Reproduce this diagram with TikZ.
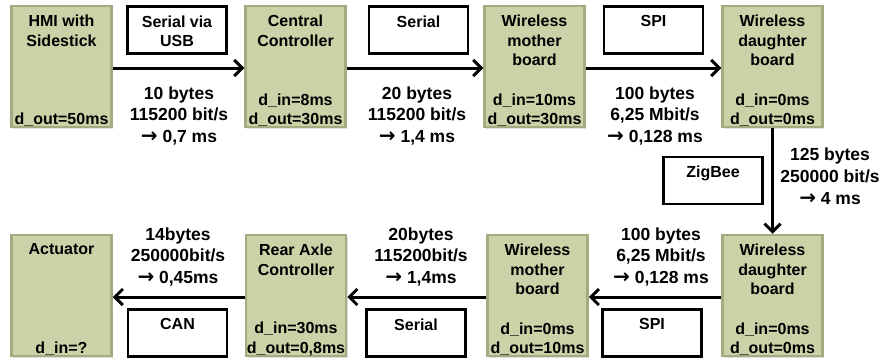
\documentclass[tikz,border=0pt]{standalone}
\usepackage{fontspec}
\setmainfont{Liberation Sans}
\newfontfamily\arrowfont{DejaVu Sans}
\newcommand{\rarr}{{\arrowfont\fontsize{20}{20}\selectfont →}}
\usetikzlibrary{arrows.meta,shadows,calc}
\definecolor{gfill}{RGB}{205,209,167}
\definecolor{gborder}{RGB}{166,170,128}
\begin{document}
\begin{tikzpicture}[x=1pt,y=-1pt,
  gbox/.style={draw=gborder, line width=2.5pt, fill=gfill, minimum width=100pt, minimum height=121pt, inner sep=0pt,
    drop shadow={shadow xshift=1.5pt, shadow yshift=-1.5pt, opacity=0.25}},
  wbox/.style={draw=black, line width=2.5pt, fill=white, minimum width=99pt, minimum height=47pt, inner sep=0pt},
  btxt/.style={font=\bfseries\fontsize{16}{19.5}\selectfont, align=center, inner sep=0pt},
  ltxt/.style={font=\bfseries\fontsize{17.5}{21.8}\selectfont, align=center, inner sep=0pt},
  conn/.style={line width=3pt, -{Straight Barb[length=8pt,width=16pt]}}
]
\useasboundingbox (0,0) rectangle (881,364);

% top row green boxes
\node[gbox] (hmi) at (61.5,66.5) {};
\node[gbox] (cc)  at (295.5,66.5) {};
\node[gbox] (wm1) at (534.5,66.5) {};
\node[gbox] (wd1) at (772.5,66.5) {};
% bottom row green boxes
\node[gbox] (act) at (61.5,295.5) {};
\node[gbox] (rac) at (296,295.5) {};
\node[gbox] (wm2) at (537.5,295.5) {};
\node[gbox] (wd2) at (772.5,295.5) {};

% box texts
\node[btxt, anchor=north] (hmiT) at ([yshift=-10pt]hmi.north) {HMI with\\Sidestick};
\node[btxt, anchor=south] (hmiB) at ([yshift=1.5pt]hmi.south) {d\_out=50ms};
\node[btxt, anchor=north] (ccT) at ([yshift=-10pt]cc.north) {Central\\Controller};
\node[btxt, anchor=south] (ccB) at ([yshift=1.5pt]cc.south) {d\_in=8ms\\d\_out=30ms};
\node[btxt, anchor=north] (wm1T) at ([yshift=-10pt]wm1.north) {Wireless\\mother\\board};
\node[btxt, anchor=south] (wm1B) at ([yshift=1.5pt]wm1.south) {d\_in=10ms\\d\_out=30ms};
\node[btxt, anchor=north] (wd1T) at ([yshift=-10pt]wd1.north) {Wireless\\daughter\\board};
\node[btxt, anchor=south] (wd1B) at ([yshift=1.5pt]wd1.south) {d\_in=0ms\\d\_out=0ms};

\node[btxt, anchor=north] (actT) at ([yshift=-10pt]act.north) {Actuator};
\node[btxt, anchor=south] (actB) at ([yshift=1.5pt]act.south) {d\_in=?};
\node[btxt, anchor=north] (racT) at ([yshift=-10pt]rac.north) {Rear Axle\\Controller};
\node[btxt, anchor=south] (racB) at ([yshift=1.5pt]rac.south) {d\_in=30ms\\d\_out=0,8ms};
\node[btxt, anchor=north] (wm2T) at ([yshift=-10pt]wm2.north) {Wireless\\mother\\board};
\node[btxt, anchor=south] (wm2B) at ([yshift=1.5pt]wm2.south) {d\_in=0ms\\d\_out=10ms};
\node[btxt, anchor=north] (wd2T) at ([yshift=-10pt]wd2.north) {Wireless\\daughter\\board};
\node[btxt, anchor=south] (wd2B) at ([yshift=1.5pt]wd2.south) {d\_in=0ms\\d\_out=0ms};

% white boxes
\node[wbox] (usb) at (177,30) {};
\node[btxt, anchor=north] (usbT) at ([yshift=-10pt]usb.north) {Serial via\\USB};
\node[wbox] (ser1) at (418.5,30) {};
\node[btxt, anchor=north] (ser1T) at ([yshift=-10pt]ser1.north) {Serial};
\node[wbox] (spi1) at (653.5,30) {};
\node[btxt, anchor=north] (spi1T) at ([yshift=-10pt]spi1.north) {SPI};
\node[wbox] (zig) at (713,180.5) {};
\node[btxt, anchor=north] (zigT) at ([yshift=-10pt]zig.north) {ZigBee};
\node[wbox] (can) at (177.5,333) {};
\node[btxt, anchor=north] (canT) at ([yshift=-10pt]can.north) {CAN};
\node[wbox] (ser2) at (416,333) {};
\node[btxt, anchor=north] (ser2T) at ([yshift=-10pt]ser2.north) {Serial};
\node[wbox] (spi2) at (652,333) {};
\node[btxt, anchor=north] (spi2T) at ([yshift=-10pt]spi2.north) {SPI};

% connectors
\draw[conn] (hmi.east |- 0,68) -- (cc.west |- 0,68);
\draw[conn] (cc.east |- 0,68) -- (wm1.west |- 0,68);
\draw[conn] (wm1.east |- 0,68) -- (wd1.west |- 0,68);
\draw[conn] (wd1.south) -- (wd2.north);
\draw[conn] (wd2.west |- 0,297) -- (wm2.east |- 0,297);
\draw[conn] (wm2.west |- 0,297) -- (rac.east |- 0,297);
\draw[conn] (rac.west |- 0,297) -- (act.east |- 0,297);

% labels
\node[ltxt] (l1) at (179,116) {10 bytes\\115200 bit/s\\\rarr{} 0,7 ms};
\node[ltxt] (l2) at (417,116) {20 bytes\\115200 bit/s\\\rarr{} 1,4 ms};
\node[ltxt] (l3) at (655,116) {100 bytes\\6,25 Mbit/s\\\rarr{} 0,128 ms};
\node[ltxt] (l4) at (830,176.5) {125 bytes\\250000 bit/s\\\rarr{} 4 ms};
\node[ltxt] (l5) at (178,257) {14bytes\\250000bit/s\\\rarr{} 0,45ms};
\node[ltxt] (l6) at (421,257) {20bytes\\115200bit/s\\\rarr{} 1,4ms};
\node[ltxt] (l7) at (661,257) {100 bytes\\6,25 Mbit/s\\\rarr{} 0,128 ms};
\end{tikzpicture}
\end{document}
